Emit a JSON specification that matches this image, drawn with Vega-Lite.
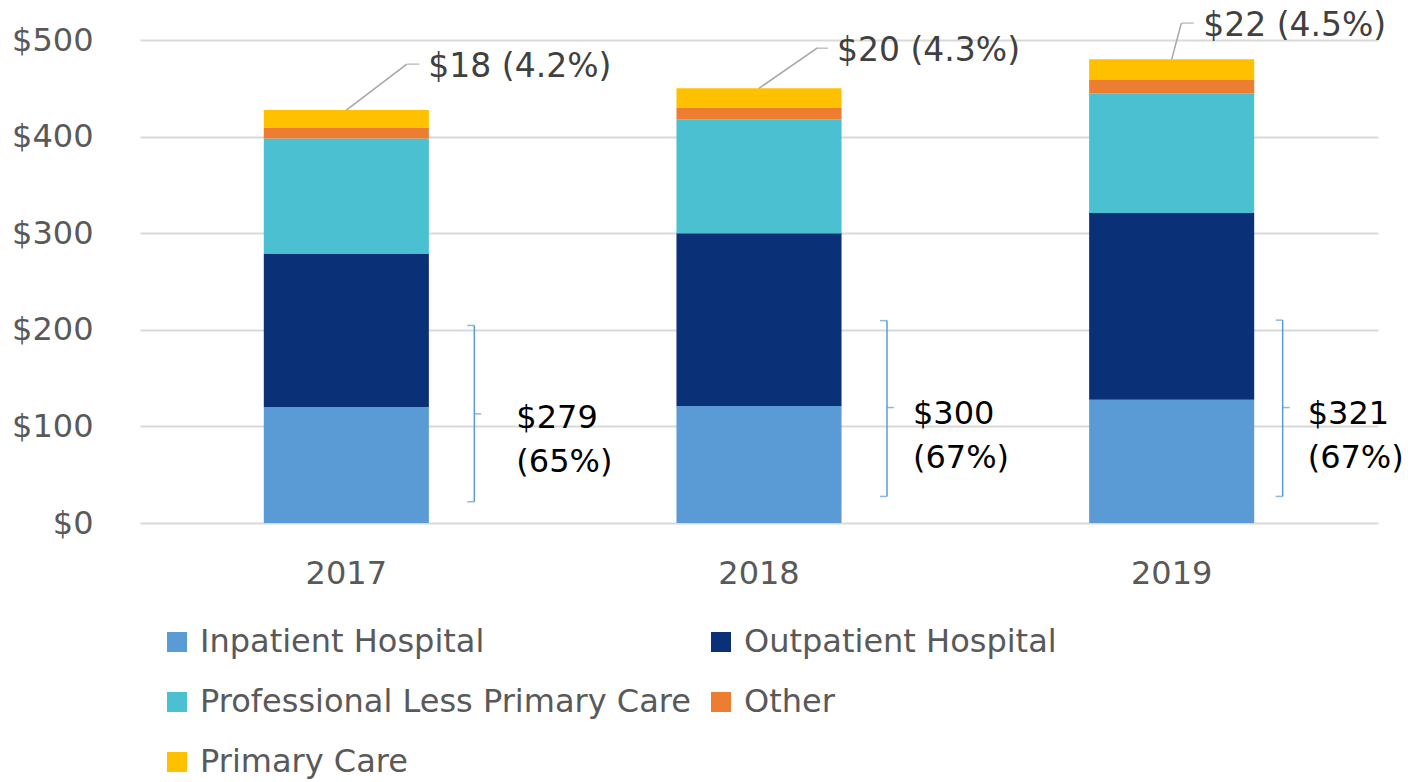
{
  "$schema": "https://vega.github.io/schema/vega-lite/v6.json",
  "width": 1238,
  "height": 483,
  "autosize": "none",
  "padding": {"left": 140, "top": 40, "right": 36, "bottom": 259},
  "config": {"view": {"stroke": null}, "font": "DejaVu Sans"},
  "datasets": {
    "costs": [
      {"year": "2017", "category": "Inpatient Hospital", "value": 120},
      {"year": "2017", "category": "Outpatient Hospital", "value": 159},
      {"year": "2017", "category": "Professional Less Primary Care", "value": 119},
      {"year": "2017", "category": "Other", "value": 11.5},
      {"year": "2017", "category": "Primary Care", "value": 18},
      {"year": "2018", "category": "Inpatient Hospital", "value": 121},
      {"year": "2018", "category": "Outpatient Hospital", "value": 179},
      {"year": "2018", "category": "Professional Less Primary Care", "value": 118},
      {"year": "2018", "category": "Other", "value": 12},
      {"year": "2018", "category": "Primary Care", "value": 20},
      {"year": "2019", "category": "Inpatient Hospital", "value": 127.5},
      {"year": "2019", "category": "Outpatient Hospital", "value": 193.5},
      {"year": "2019", "category": "Professional Less Primary Care", "value": 124},
      {"year": "2019", "category": "Other", "value": 13.5},
      {"year": "2019", "category": "Primary Care", "value": 21.5}
    ],
    "notes": [
      {"year": "2017", "total": 427.5, "leadY": 475, "label": "$18 (4.2%)", "brLo": 22, "brHi": 204.5, "brMid": 113, "brLabel": "$279\n(65%)", "brTextY": 86},
      {"year": "2018", "total": 450, "leadY": 491.5, "label": "$20 (4.3%)", "brLo": 27.5, "brHi": 209.5, "brMid": 119.5, "brLabel": "$300\n(67%)", "brTextY": 90},
      {"year": "2019", "total": 480, "leadY": 517.5, "label": "$22 (4.5%)", "brLo": 27.5, "brHi": 210, "brMid": 119.5, "brLabel": "$321\n(67%)", "brTextY": 90}
    ]
  },
  "encoding": {
    "x": {
      "field": "year",
      "type": "nominal",
      "scale": {"paddingInner": 0.6, "paddingOuter": 0.3},
      "axis": {"title": null, "labelAngle": 0, "labelFontSize": 32, "labelColor": "#595959", "ticks": false, "domain": false, "labelPadding": 35}
    }
  },
  "layer": [
    {
      "data": {"name": "costs"},
      "transform": [
        {"calculate": "indexof(['Inpatient Hospital','Outpatient Hospital','Professional Less Primary Care','Other','Primary Care'], datum.category)", "as": "k"}
      ],
      "mark": {"type": "bar"},
      "encoding": {
        "y": {
          "field": "value",
          "type": "quantitative",
          "stack": "zero",
          "scale": {"domain": [0, 500], "nice": false},
          "axis": {"values": [0, 100, 200, 300, 400, 500], "labelExpr": "'$' + datum.value", "title": null, "domain": false, "ticks": false, "grid": true, "gridColor": "#d9d9d9", "gridWidth": 2, "labelFontSize": 32, "labelColor": "#595959", "labelPadding": 47}
        },
        "color": {
          "field": "category",
          "type": "nominal",
          "scale": {
            "domain": ["Inpatient Hospital", "Outpatient Hospital", "Professional Less Primary Care", "Other", "Primary Care"],
            "range": ["#5b9bd5", "#0a3078", "#4bc0d1", "#ed7d31", "#ffc000"]
          },
          "legend": {"title": null, "orient": "none", "legendX": 21, "legendY": 586, "columns": 2, "direction": "horizontal", "symbolType": "square", "symbolSize": 400, "symbolStrokeWidth": 0, "labelFontSize": 32, "labelColor": "#595959", "labelOffset": 7, "rowPadding": 28, "columnPadding": 14, "labelLimit": 0, "padding": 0}
        },
        "order": {"field": "k", "type": "quantitative"}
      }
    },
    {
      "data": {"name": "notes"},
      "mark": {"type": "rule", "color": "#5b9bd5", "strokeWidth": 1.5, "xOffset": {"expr": "datum.year == '2019' ? 111 : 128"}},
      "encoding": {
        "y": {"field": "brLo", "type": "quantitative", "scale": {"domain": [0, 500], "nice": false}},
        "y2": {"field": "brHi"}
      }
    },
    {
      "data": {"name": "notes"},
      "mark": {"type": "tick", "orient": "horizontal", "size": 7, "thickness": 1.5, "color": "#5b9bd5", "xOffset": {"expr": "datum.year == '2019' ? 107.5 : 124.5"}},
      "encoding": {"y": {"field": "brLo", "type": "quantitative", "scale": {"domain": [0, 500], "nice": false}}}
    },
    {
      "data": {"name": "notes"},
      "mark": {"type": "tick", "orient": "horizontal", "size": 7, "thickness": 1.5, "color": "#5b9bd5", "xOffset": {"expr": "datum.year == '2019' ? 107.5 : 124.5"}},
      "encoding": {"y": {"field": "brHi", "type": "quantitative", "scale": {"domain": [0, 500], "nice": false}}}
    },
    {
      "data": {"name": "notes"},
      "mark": {"type": "tick", "orient": "horizontal", "size": 7, "thickness": 1.5, "color": "#5b9bd5", "xOffset": {"expr": "datum.year == '2019' ? 114.5 : 131.5"}},
      "encoding": {"y": {"field": "brMid", "type": "quantitative", "scale": {"domain": [0, 500], "nice": false}}}
    },
    {
      "data": {"name": "notes"},
      "mark": {"type": "text", "align": "left", "baseline": "middle", "fontSize": 32, "color": "#000000", "lineBreak": "\n", "lineHeight": 44, "dy": -22, "xOffset": {"expr": "datum.year == '2017' ? 170 : datum.year == '2018' ? 154 : 136"}},
      "encoding": {
        "y": {"field": "brTextY", "type": "quantitative", "scale": {"domain": [0, 500], "nice": false}},
        "text": {"field": "brLabel"}
      }
    },
    {
      "data": {"name": "notes"},
      "mark": {"type": "rule", "color": "#a6a6a6", "strokeWidth": 1.5, "x2Offset": {"expr": "datum.year == '2017' ? 60.5 : datum.year == '2018' ? 58 : 9.7"}},
      "encoding": {
        "x2": {"field": "year"},
        "y": {"field": "total", "type": "quantitative", "scale": {"domain": [0, 500], "nice": false}},
        "y2": {"field": "leadY"}
      }
    },
    {
      "data": {"name": "notes"},
      "mark": {"type": "tick", "orient": "horizontal", "size": 12, "thickness": 1.5, "color": "#a6a6a6", "xOffset": {"expr": "datum.year == '2017' ? 67 : datum.year == '2018' ? 63 : 16"}},
      "encoding": {"y": {"field": "leadY", "type": "quantitative", "scale": {"domain": [0, 500], "nice": false}}}
    },
    {
      "data": {"name": "notes"},
      "mark": {"type": "text", "align": "left", "baseline": "middle", "fontSize": 33, "color": "#404040", "dy": 3, "xOffset": {"expr": "datum.year == '2017' ? 82 : datum.year == '2018' ? 78 : 31.5"}},
      "encoding": {
        "y": {"field": "leadY", "type": "quantitative", "scale": {"domain": [0, 500], "nice": false}},
        "text": {"field": "label"}
      }
    }
  ]
}
